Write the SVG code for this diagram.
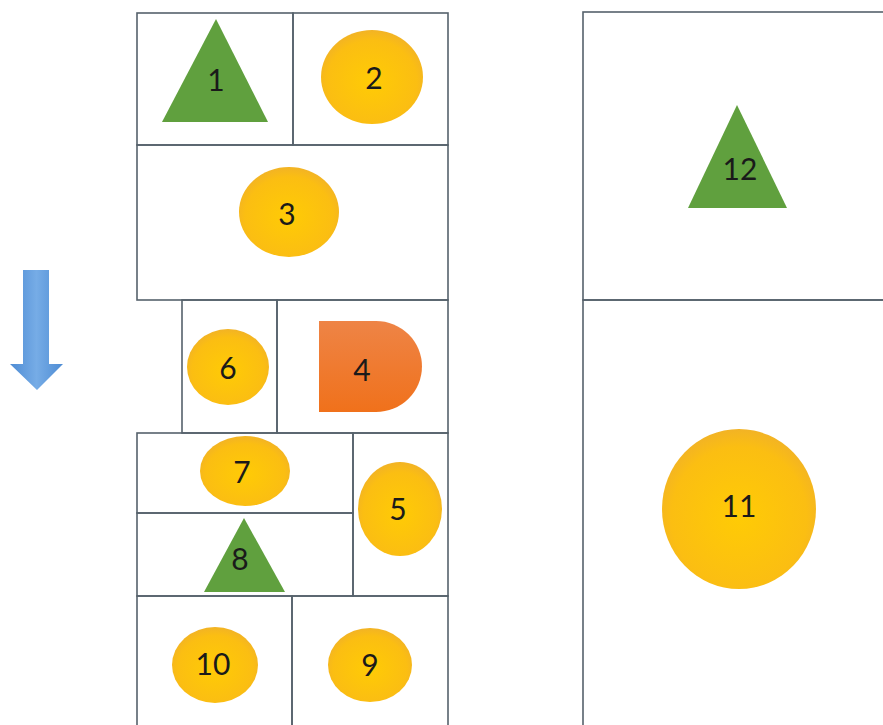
<svg xmlns="http://www.w3.org/2000/svg" width="883" height="725" viewBox="0 0 883 725">
<defs>
<radialGradient id="gy" cx="50%" cy="55%" r="55%">
<stop offset="0" stop-color="#FFCB05"/>
<stop offset="0.8" stop-color="#FBBE12"/>
<stop offset="1" stop-color="#F2B325"/>
</radialGradient>
<linearGradient id="go" x1="0" y1="0" x2="0" y2="1">
<stop offset="0" stop-color="#EE8446"/>
<stop offset="1" stop-color="#F0711B"/>
</linearGradient>
<linearGradient id="gb" x1="0" y1="0" x2="0" y2="1">
<stop offset="0" stop-color="#7AAEE4"/>
<stop offset="1" stop-color="#3F80CC"/>
</linearGradient>
<linearGradient id="gbs" x1="0" y1="0" x2="1" y2="0">
<stop offset="0" stop-color="#4E8CD4"/>
<stop offset="0.5" stop-color="#76ACE6"/>
<stop offset="1" stop-color="#4E8CD4"/>
</linearGradient>
</defs>
<style>
.cell{fill:none;stroke:#56626C;stroke-width:1.6}
.y{fill:url(#gy)}
.g{fill:#60A03E}
.t{font-family:Lato,"Open Sans","Liberation Sans",sans-serif;font-size:30px;fill:#1A1A1A;text-anchor:middle;dominant-baseline:central}
</style>
<rect width="883" height="725" fill="#FFFFFF"/>
<g id="arrow">
<path d="M23,270 H49 V364 H63 L37,390 L10,364 H23 Z" fill="url(#gbs)"/>
</g>
<g id="cells">
<rect class="cell" x="137" y="13" width="156" height="132"/>
<rect class="cell" x="293" y="13" width="155" height="132"/>
<rect class="cell" x="137" y="145" width="311" height="155"/>
<rect class="cell" x="182" y="300" width="95" height="133"/>
<rect class="cell" x="277" y="300" width="171" height="133"/>
<rect class="cell" x="137" y="433" width="216" height="80"/>
<rect class="cell" x="137" y="513" width="216" height="83"/>
<rect class="cell" x="353" y="433" width="95" height="163"/>
<rect class="cell" x="137" y="596" width="155" height="140"/>
<rect class="cell" x="292" y="596" width="156" height="140"/>
<rect class="cell" x="583" y="12" width="310" height="288"/>
<rect class="cell" x="583" y="300" width="310" height="440"/>
</g>
<g id="n1"><polygon class="g" points="216,19 268,122 162,122"/><text class="t" x="216" y="79">1</text></g>
<g id="n2"><ellipse class="y" cx="372" cy="77" rx="51" ry="47"/><text class="t" x="374" y="77">2</text></g>
<g id="n3"><ellipse class="y" cx="289" cy="212" rx="50" ry="45"/><text class="t" x="287" y="213">3</text></g>
<g id="n6"><ellipse class="y" cx="228" cy="367" rx="41" ry="38"/><text class="t" x="228" y="367">6</text></g>
<g id="n4"><path d="M319,321 H376 A46,45.5 0 0 1 376,412 H319 Z" fill="url(#go)"/><text class="t" x="362" y="369">4</text></g>
<g id="n7"><ellipse class="y" cx="245" cy="471" rx="45" ry="35"/><text class="t" x="242" y="471">7</text></g>
<g id="n8"><polygon class="g" points="244,518 285,592 204,592"/><text class="t" x="240" y="558">8</text></g>
<g id="n5"><ellipse class="y" cx="400" cy="509" rx="42" ry="47"/><text class="t" x="398" y="508">5</text></g>
<g id="n10"><ellipse class="y" cx="215" cy="665" rx="43" ry="38"/><text class="t" x="213" y="663">10</text></g>
<g id="n9"><ellipse class="y" cx="370" cy="665" rx="42" ry="37"/><text class="t" x="370" y="664">9</text></g>
<g id="n12"><polygon class="g" points="737,105 787,208 688,208"/><text class="t" x="740" y="168">12</text></g>
<g id="n11"><ellipse class="y" cx="739" cy="509" rx="77" ry="80"/><text class="t" x="739" y="505">11</text></g>
</svg>
